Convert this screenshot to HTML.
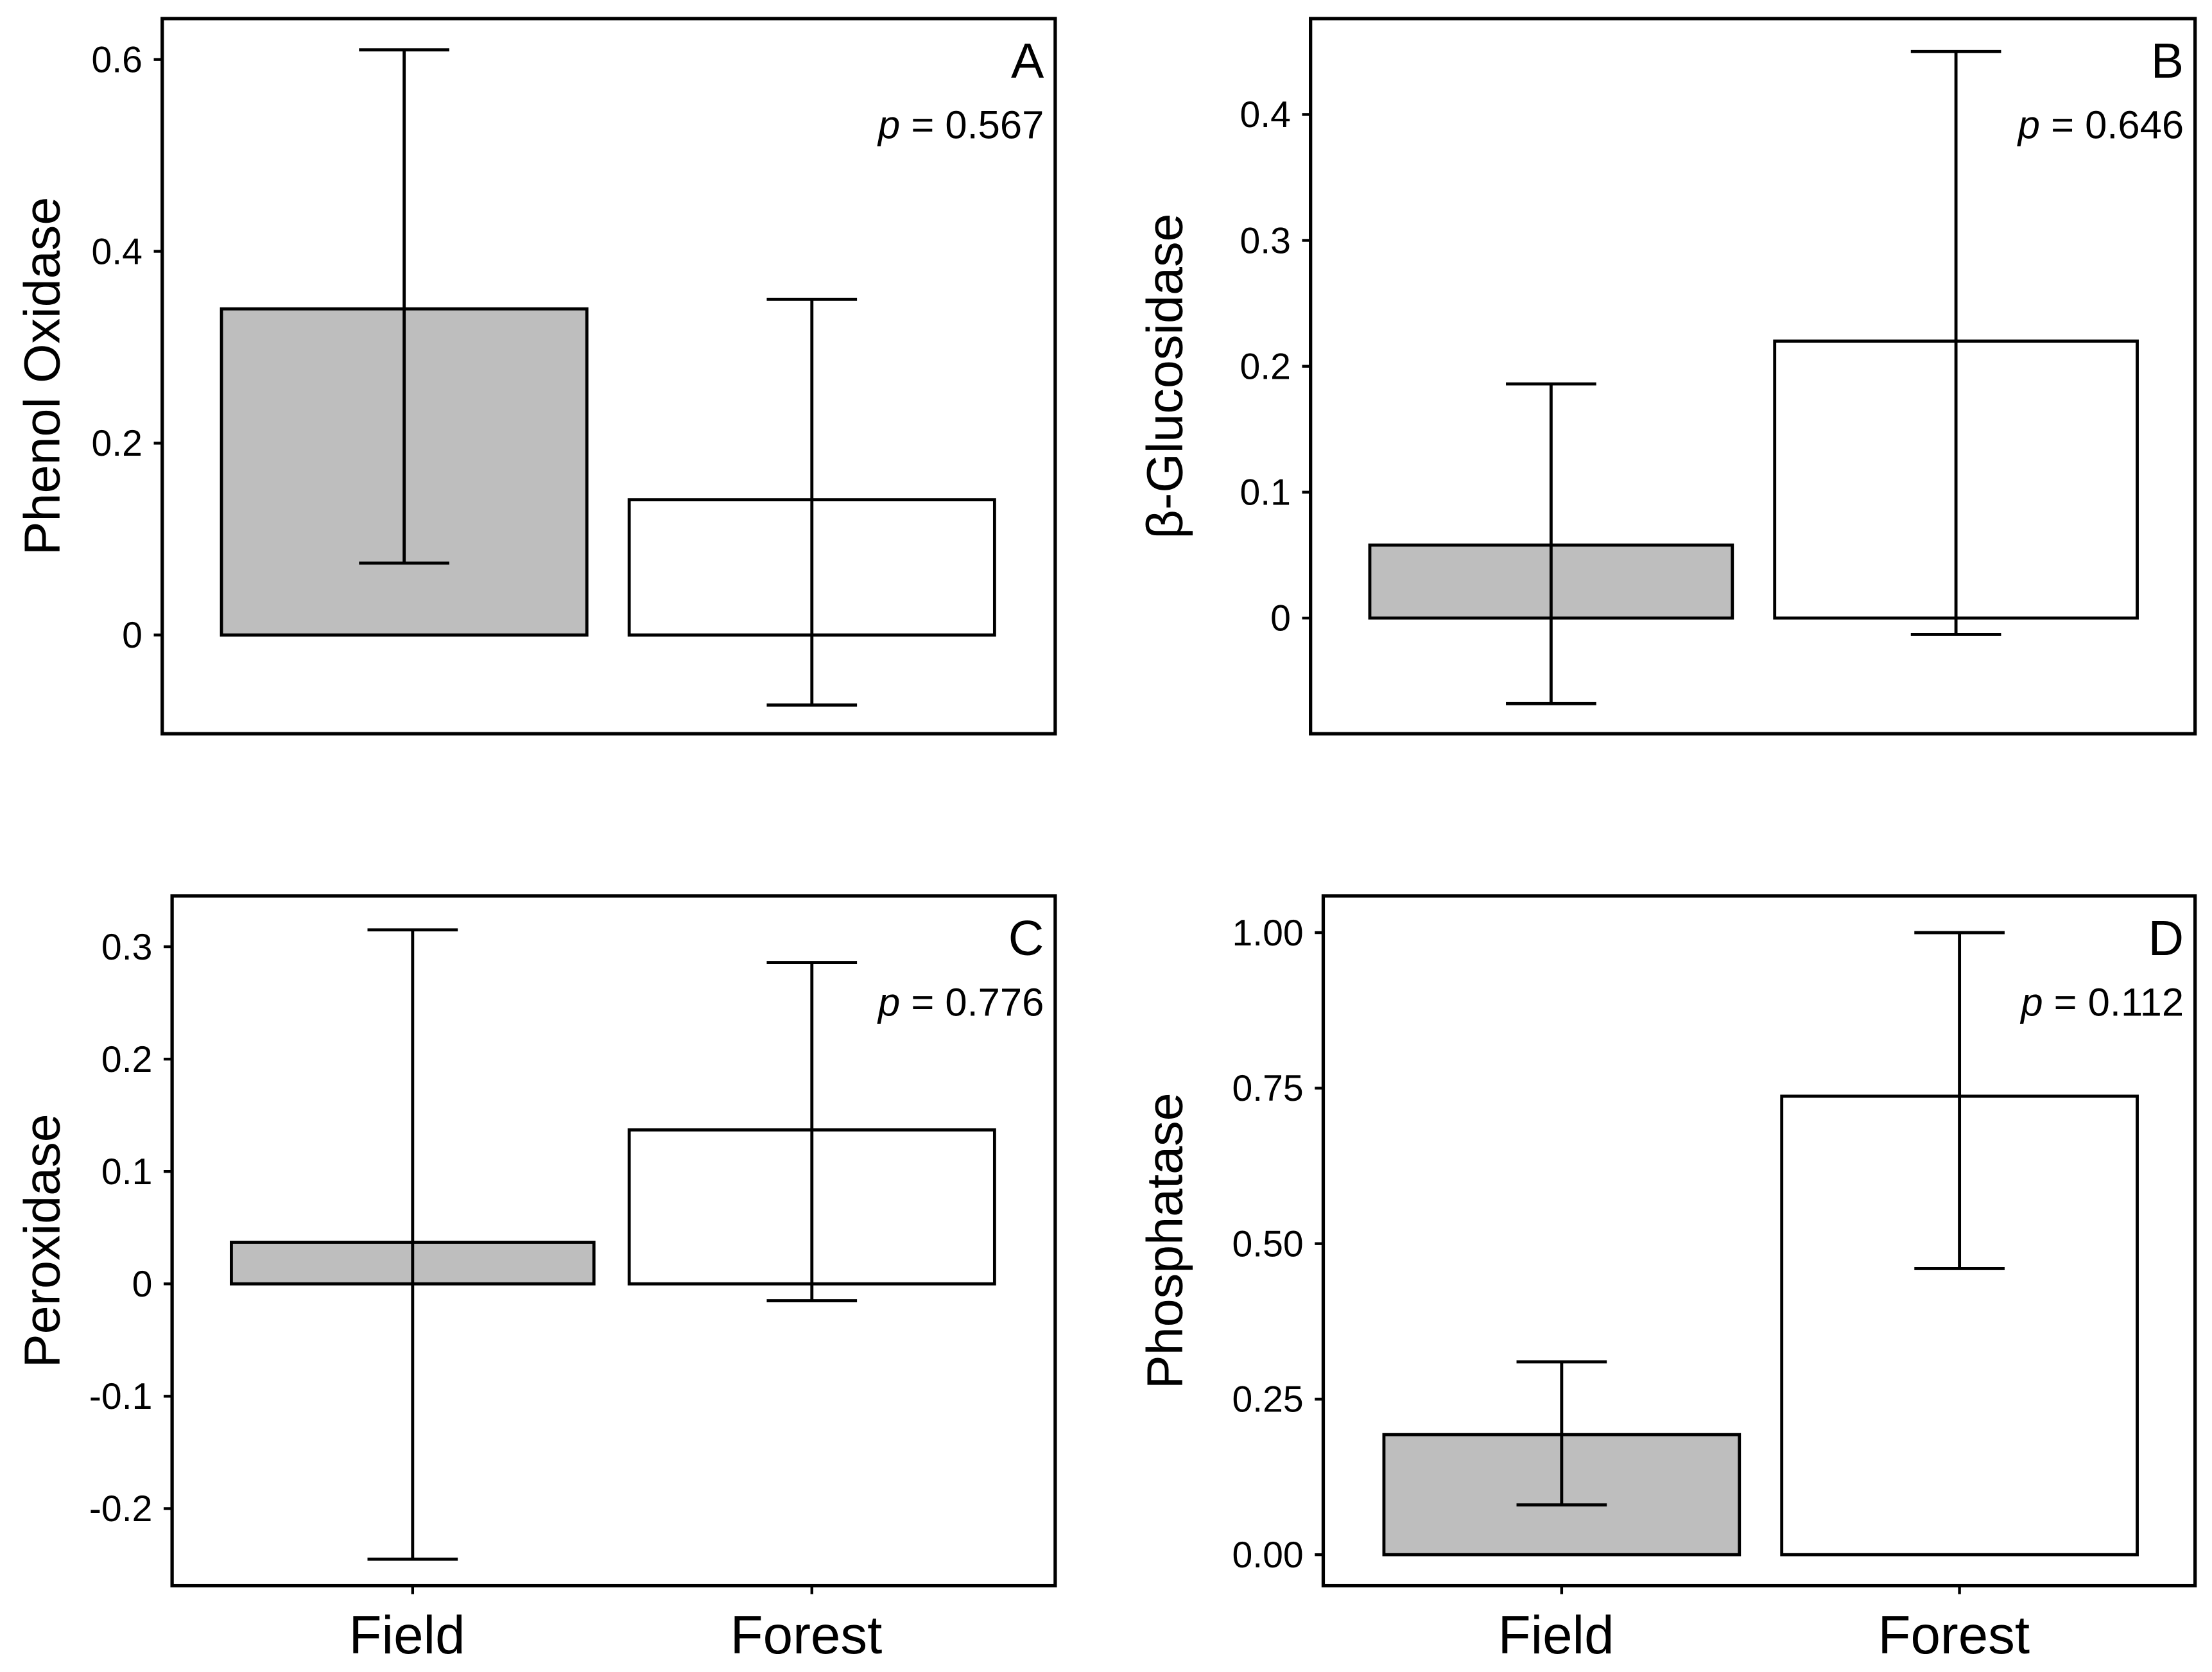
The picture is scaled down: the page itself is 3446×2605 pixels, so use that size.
<!DOCTYPE html>
<html><head><meta charset="utf-8"><style>html,body{margin:0;padding:0;background:#fff}svg{display:block}</style></head>
<body>
<svg id="chart" width="3446" height="2605" viewBox="0 0 1568 1185" xmlns="http://www.w3.org/2000/svg" font-family="Liberation Sans, sans-serif"></svg>
<script>
const categories = ["Field", "Forest"];
const titlesY = ["Phenol Oxidase", "β-Glucosidase", "Peroxidase", "Phosphatase"];
const panelLetters = ["A", "B", "C", "D"];
const pValues = ["0.567", "0.646", "0.776", "0.112"];
const meansA = [0.34, 0.141];
const lowA = [0.075, -0.073];
const highA = [0.61, 0.35];
const meansB = [0.058, 0.22];
const lowB = [-0.068, -0.013];
const highB = [0.186, 0.45];
const meansC = [0.037, 0.137];
const lowC = [-0.245, -0.015];
const highC = [0.315, 0.286];
const meansD = [0.193, 0.737];
const lowD = [0.08, 0.46];
const highD = [0.31, 1.0];
const ticksA = [0, 0.2, 0.4, 0.6];
const tickLabelsA = ["0", "0.2", "0.4", "0.6"];
const ticksB = [0, 0.1, 0.2, 0.3, 0.4];
const tickLabelsB = ["0", "0.1", "0.2", "0.3", "0.4"];
const ticksC = [-0.2, -0.1, 0, 0.1, 0.2, 0.3];
const tickLabelsC = ["-0.2", "-0.1", "0", "0.1", "0.2", "0.3"];
const ticksD = [0, 0.25, 0.5, 0.75, 1.0];
const tickLabelsD = ["0.00", "0.25", "0.50", "0.75", "1.00"];

const NS = "http://www.w3.org/2000/svg";
const svg = document.getElementById("chart");
function mk(tag, attrs, parent) {
  const e = document.createElementNS(NS, tag);
  for (const k in attrs) e.setAttribute(k, attrs[k]);
  (parent || svg).appendChild(e);
  return e;
}
const panels = [
  {id:"a", frame:[115,13,748,520], dom:[0,450,0.6,42], bars:[[157,416],[446,705]], means:meansA, low:lowA, high:highA, ticks:ticksA, labels:tickLabelsA, titleX:30, xlab:false},
  {id:"b", frame:[929,13,1556,520], dom:[0,438,0.4,81], bars:[[971,1228],[1258,1515]], means:meansB, low:lowB, high:highB, ticks:ticksB, labels:tickLabelsB, titleX:826, xlab:false},
  {id:"c", frame:[122,635,748,1124], dom:[0,910,0.3,671], bars:[[164,421],[446,705]], means:meansC, low:lowC, high:highC, ticks:ticksC, labels:tickLabelsC, titleX:30, xlab:true},
  {id:"d", frame:[938,635,1556,1124], dom:[0,1102,1.0,661], bars:[[981,1233],[1263,1515]], means:meansD, low:lowD, high:highD, ticks:ticksD, labels:tickLabelsD, titleX:826, xlab:true}
];
panels.forEach((p, i) => {
  const g = mk("g", {});
  
  
  const [l, t, r, b] = p.frame;
  const y = v => p.dom[1] + (v - p.dom[0]) * (p.dom[3] - p.dom[1]) / (p.dom[2] - p.dom[0]);
  p.bars.forEach((bx, j) => {
    const top = y(p.means[j]), base = y(0);
    const rect = mk("rect", {x:bx[0], y:Math.min(top, base), width:bx[1]-bx[0], height:Math.abs(base-top), fill:j===0?"#bebebe":"#fff", stroke:"#000", "stroke-width":2.2}, g);
    
    
  });
  p.bars.forEach((bx, j) => {
    const cx = (bx[0] + bx[1]) / 2;
    const eg = mk("g", {stroke:"#000", "stroke-width":2.2}, g);
    
    
    mk("line", {x1:cx, x2:cx, y1:y(p.low[j]), y2:y(p.high[j])}, eg);
    mk("line", {x1:cx-32, x2:cx+32, y1:y(p.low[j]), y2:y(p.low[j])}, eg);
    mk("line", {x1:cx-32, x2:cx+32, y1:y(p.high[j]), y2:y(p.high[j])}, eg);
  });
  const fr = mk("rect", {x:l, y:t, width:r-l, height:b-t, fill:"none", stroke:"#000", "stroke-width":2.4}, g);
  
  
  p.ticks.forEach((v, k) => {
    const ty = y(v);
    mk("line", {x1:l-6, x2:l, y1:ty, y2:ty, stroke:"#000", "stroke-width":2}, g);
    const tx = mk("text", {x:l-14, y:ty+9, "text-anchor":"end", "font-size":26}, g);
    tx.textContent = p.labels[k];
    
    
  });
  const cy = (t + b) / 2;
  const yt = mk("text", {x:p.titleX, y:cy, "text-anchor":"middle", "font-size":36, transform:"rotate(-90 " + (p.titleX) + " " + cy + ")", dy:12}, g);
  yt.textContent = titlesY[i];
  
  
  const lt = mk("text", {x:r-8, y:t+42, "text-anchor":"end", "font-size":35}, g);
  lt.textContent = panelLetters[i];
  
  
  const pt = mk("text", {x:r-8, y:t+85, "text-anchor":"end", "font-size":28}, g);
  
  
  const it = mk("tspan", {"font-style":"italic"}, pt); it.textContent = "p";
  const rt = mk("tspan", {}, pt); rt.textContent = " = " + pValues[i];
  if (p.xlab) {
    p.bars.forEach((bx, j) => {
      const cx = (bx[0] + bx[1]) / 2;
      mk("line", {x1:cx, x2:cx, y1:b, y2:b+6, stroke:"#000", "stroke-width":2}, g);
      const xt = mk("text", {x:cx - 4, y:1172, "text-anchor":"middle", "font-size":38}, g);
      xt.textContent = categories[j];
      
      
    });
  }
});
</script>
</body></html>
